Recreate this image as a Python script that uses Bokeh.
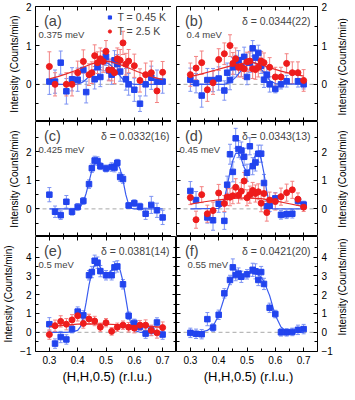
import math
from bokeh.plotting import figure
from bokeh.layouts import gridplot
from bokeh.models import (Range1d, LinearAxis, FixedTicker, Span, Label, Whisker,
                          TeeHead, ColumnDataSource, Legend, LegendItem)
from bokeh.embed import file_html
from bokeh.resources import INLINE

# ---------------- ticks / texts ----------------
x_ticks = [0.3, 0.4, 0.5, 0.6, 0.7]
x_minor_ticks = [0.25, 0.35, 0.45, 0.55, 0.65, 0.75]
y_ticks_row1 = [0, 1, 2]
y_minor_row1 = [-0.5, 0.5, 1.5]
y_ticks_row2 = [0, 1, 2]
y_minor_row2 = [-0.5, 0.5, 1.5, 2.5]
y_ticks_row3 = [-1, 0, 1, 2, 3, 4]
y_minor_row3 = [-0.5, 0.5, 1.5, 2.5, 3.5, 4.5]

panel_letters = ["(a)", "(b)", "(c)", "(d)", "(e)", "(f)"]
energies = ["0.375 meV", "0.4 meV", "0.425 meV", "0.45 meV", "0.5 meV", "0.55 meV"]
deltas = ["", "δ = 0.0344(22)", "δ = 0.0332(16)", "δ = 0.0343(13)",
          "δ = 0.0381(14)", "δ = 0.0421(20)"]
legend_labels = ["T = 0.45 K", "T = 2.5 K"]
y_title = "Intensity (Counts/min)"
x_title = "(H,H,0.5) (r.l.u.)"

# ---------------- panel (a) 0.375 meV ----------------
a_blue_x = [0.30, 0.32, 0.34, 0.36, 0.38, 0.40, 0.42, 0.43, 0.46, 0.47, 0.48, 0.49, 0.50,
            0.51, 0.52, 0.53, 0.54, 0.55, 0.57, 0.58, 0.60, 0.62, 0.64, 0.66, 0.68, 0.70]
a_blue_y = [0.07, 0.07, 0.56, -0.18, 0.13, 0.12, 0.37, -0.2, 0.13, 0.44, 0.19, 0.6, 0.71,
            0.36, 0.25, 0.62, 0.52, 0.33, 0.13, 0.0, -0.14, -0.5, 0.0, 0.17, 0.07, 0.07]
a_blue_e = [0.33, 0.3, 0.3, 0.33, 0.3, 0.3, 0.28, 0.28, 0.25, 0.25, 0.25, 0.25, 0.22,
            0.25, 0.25, 0.25, 0.25, 0.25, 0.28, 0.28, 0.3, 0.2, 0.3, 0.3, 0.3, 0.3]
a_red_x = [0.30, 0.32, 0.36, 0.38, 0.40, 0.42, 0.44, 0.45, 0.46, 0.47, 0.48, 0.49, 0.50, 0.51,
           0.52, 0.53, 0.54, 0.55, 0.56, 0.57, 0.58, 0.60, 0.62, 0.64, 0.66, 0.68, 0.70]
a_red_y = [0.46, 0.0, 0.0, 0.0, 0.3, 0.59, 0.25, 0.3, 0.74, 0.56, 0.66, 0.59, 0.85, 0.37,
           0.37, 0.3, 0.66, 0.62, 1.07, 0.52, 0.6, 0.48, 0.1, 0.25, 0.3, -0.17, 0.31]
a_red_e = [0.38, 0.3, 0.3, 0.3, 0.3, 0.3, 0.28, 0.28, 0.28, 0.28, 0.28, 0.28, 0.28, 0.28,
           0.28, 0.28, 0.28, 0.28, 0.3, 0.28, 0.3, 0.3, 0.3, 0.3, 0.3, 0.3, 0.28]
a_blue_fit_x = [0.30, 0.38, 0.40, 0.41, 0.42, 0.43, 0.44, 0.45, 0.46, 0.47, 0.48, 0.49,
                0.50, 0.51, 0.52, 0.53, 0.54, 0.55, 0.56, 0.57, 0.58, 0.60, 0.70]
a_blue_fit_y = [0.0, 0.0, 0.01, 0.03, 0.07, 0.13, 0.21, 0.30, 0.39, 0.47, 0.53, 0.56,
                0.56, 0.53, 0.47, 0.39, 0.30, 0.21, 0.13, 0.07, 0.03, 0.0, 0.0]
a_red_fit_x = [0.30, 0.33, 0.36, 0.39, 0.42, 0.45, 0.48, 0.50, 0.52, 0.55, 0.58, 0.61,
               0.64, 0.67, 0.70]
a_red_fit_y = [0.14, 0.2, 0.27, 0.35, 0.44, 0.53, 0.59, 0.6, 0.58, 0.51, 0.42, 0.33,
               0.25, 0.18, 0.12]

# ---------------- panel (b) 0.4 meV ----------------
b_blue_x = [0.30, 0.32, 0.34, 0.36, 0.38, 0.40, 0.42, 0.43, 0.44, 0.45, 0.46, 0.47, 0.48, 0.49,
            0.50, 0.51, 0.52, 0.53, 0.54, 0.55, 0.56, 0.57, 0.58, 0.60, 0.62, 0.64, 0.68, 0.70]
b_blue_y = [0.12, 0.03, -0.29, 0.11, 0.11, 0.15, -0.16, 0.3, 0.11, 0.44, 0.5, 0.62, 0.45, 0.71,
            0.19, 0.56, 0.93, 0.69, 0.81, 0.48, 0.12, 0.25, 0.0, -0.12, 0.0, 0.08, 0.08, 0.0]
b_blue_e = [0.3, 0.25, 0.3, 0.3, 0.3, 0.3, 0.25, 0.25, 0.25, 0.25, 0.25, 0.25, 0.25, 0.25,
            0.2, 0.25, 0.2, 0.2, 0.2, 0.2, 0.2, 0.2, 0.2, 0.1, 0.12, 0.15, 0.15, 0.12]
b_red_x = [0.30, 0.32, 0.34, 0.36, 0.38, 0.40, 0.42, 0.44, 0.45, 0.46, 0.47, 0.48, 0.49, 0.50,
           0.51, 0.52, 0.53, 0.54, 0.55, 0.56, 0.58, 0.60, 0.62, 0.64, 0.66, 0.68, 0.70]
b_red_y = [0.25, 0.42, 0.56, -0.14, 0.04, 0.64, 0.79, 1.0, 0.54, 0.66, 0.44, 0.44, 0.4, 0.58,
           0.6, 0.4, 0.38, 0.44, 0.6, 0.56, 0.44, 0.19, 0.19, 0.54, 0.3, 0.3, 0.1]
b_red_e = [0.3, 0.3, 0.3, 0.3, 0.3, 0.28, 0.28, 0.28, 0.28, 0.28, 0.25, 0.25, 0.25, 0.25,
           0.25, 0.25, 0.25, 0.25, 0.25, 0.25, 0.25, 0.25, 0.25, 0.25, 0.28, 0.28, 0.28]
b_blue_fit_x = [0.30, 0.42, 0.44, 0.46, 0.48, 0.50, 0.51, 0.52, 0.53, 0.54, 0.56, 0.58, 0.60, 0.70]
b_blue_fit_y = [0.0, 0.0, 0.05, 0.18, 0.36, 0.5, 0.55, 0.57, 0.55, 0.49, 0.3, 0.1, 0.02, 0.0]
b_red_fit_x = [0.30, 0.34, 0.38, 0.42, 0.46, 0.50, 0.52, 0.54, 0.58, 0.62, 0.66, 0.70]
b_red_fit_y = [0.2, 0.27, 0.35, 0.43, 0.51, 0.56, 0.56, 0.53, 0.43, 0.34, 0.27, 0.21]

# ---------------- panel (c) 0.425 meV ----------------
c_blue_x = [0.30, 0.32, 0.34, 0.36, 0.38, 0.40, 0.42, 0.44, 0.45, 0.46, 0.47, 0.48, 0.50,
            0.52, 0.53, 0.54, 0.55, 0.56, 0.58, 0.60, 0.62, 0.64, 0.66, 0.68, 0.70]
c_blue_y = [0.5, -0.1, -0.22, 0.25, -0.1, 0.07, 0.28, 0.87, 1.43, 1.7, 1.68, 1.5, 1.42,
            1.47, 1.45, 1.62, 1.12, 1.05, 0.12, 0.2, 0.08, -0.17, 0.14, -0.05, -0.3]
c_blue_e = [0.25, 0.2, 0.15, 0.22, 0.12, 0.12, 0.12, 0.15, 0.15, 0.15, 0.15, 0.12, 0.12,
            0.15, 0.15, 0.12, 0.15, 0.15, 0.1, 0.12, 0.12, 0.2, 0.3, 0.25, 0.25]
c_blue_fit_x = [0.30, 0.38, 0.40, 0.41, 0.42, 0.43, 0.44, 0.45, 0.46, 0.47, 0.48, 0.49,
                0.50, 0.51, 0.52, 0.53, 0.54, 0.55, 0.56, 0.57, 0.58, 0.59, 0.60, 0.70]
c_blue_fit_y = [0.0, 0.0, 0.02, 0.08, 0.25, 0.55, 0.95, 1.35, 1.6, 1.65, 1.58, 1.47,
                1.42, 1.45, 1.52, 1.6, 1.6, 1.4, 1.0, 0.5, 0.15, 0.02, 0.0, 0.0]

# ---------------- panel (d) 0.45 meV ----------------
d_blue_x = [0.30, 0.32, 0.36, 0.38, 0.40, 0.42, 0.43, 0.44, 0.45, 0.46, 0.47, 0.48, 0.49, 0.50,
            0.51, 0.52, 0.53, 0.54, 0.55, 0.56, 0.57, 0.58, 0.60, 0.62, 0.64, 0.66, 0.68, 0.70]
d_blue_y = [0.63, 0.31, -0.3, -0.4, 0.18, -0.42, 0.85, 1.92, 1.3, 2.48, 2.1, 2.05, 1.83, 1.27,
            2.2, 1.5, 1.63, 1.94, 1.94, 0.91, 0.09, 0.11, 0.37, -0.21, -0.19, -0.17, 0.28, 0.15]
d_blue_e = [0.33, 0.3, 0.2, 0.35, 0.3, 0.3, 0.3, 0.35, 0.35, 0.35, 0.3, 0.3, 0.3, 0.3,
            0.3, 0.3, 0.3, 0.3, 0.3, 0.3, 0.2, 0.2, 0.2, 0.15, 0.15, 0.15, 0.15, 0.12]
d_red_x = [0.30, 0.32, 0.34, 0.36, 0.38, 0.40, 0.42, 0.43, 0.44, 0.45, 0.46, 0.47, 0.48, 0.49,
           0.50, 0.51, 0.52, 0.53, 0.54, 0.55, 0.56, 0.57, 0.58, 0.60, 0.62, 0.64, 0.66, 0.68, 0.70]
d_red_y = [0.4, -0.38, 0.5, -0.17, -0.06, 0.56, 0.19, 0.42, 0.41, 0.46, 0.76, 0.48, 0.62, 0.98,
           0.39, 0.5, 0.65, 0.54, 0.6, 0.2, 0.54, -0.13, 0.31, 0.26, 0.43, 0.57, 0.67, 0.34, 0.06]
d_red_e = [0.25, 0.3, 0.28, 0.3, 0.3, 0.3, 0.28, 0.3, 0.3, 0.28, 0.3, 0.28, 0.3, 0.3,
           0.28, 0.3, 0.28, 0.3, 0.28, 0.3, 0.28, 0.3, 0.28, 0.3, 0.3, 0.3, 0.3, 0.22, 0.15]
d_blue_fit_x = [0.30, 0.40, 0.41, 0.42, 0.43, 0.44, 0.45, 0.46, 0.47, 0.48, 0.49, 0.50,
                0.51, 0.52, 0.53, 0.54, 0.55, 0.56, 0.57, 0.58, 0.59, 0.60, 0.70]
d_blue_fit_y = [0.0, 0.02, 0.1, 0.35, 0.8, 1.3, 1.7, 1.95, 1.95, 1.75, 1.45, 1.3,
                1.4, 1.65, 1.9, 1.95, 1.75, 1.25, 0.6, 0.15, 0.0, 0.0, 0.0]
d_red_fit_x = [0.30, 0.35, 0.40, 0.45, 0.50, 0.55, 0.60, 0.65, 0.70]
d_red_fit_y = [0.17, 0.25, 0.32, 0.37, 0.39, 0.36, 0.28, 0.18, 0.08]

# ---------------- panel (e) 0.5 meV ----------------
e_blue_x = [0.30, 0.32, 0.34, 0.36, 0.38, 0.40, 0.42, 0.44, 0.45, 0.46, 0.47, 0.48,
            0.50, 0.52, 0.53, 0.54, 0.56, 0.58, 0.60, 0.62, 0.64, 0.66, 0.68, 0.70]
e_blue_y = [0.43, -0.6, -0.25, -0.38, 0.17, 1.1, 0.9, 3.03, 3.2, 3.8, 3.7, 3.25,
            3.03, 3.03, 3.45, 3.5, 2.55, 0.88, 0.5, 0.3, -0.07, 0.1, 0.52, -0.12]
e_blue_e = [0.35, 0.25, 0.3, 0.25, 0.2, 0.25, 0.25, 0.25, 0.3, 0.3, 0.3, 0.3,
            0.25, 0.25, 0.3, 0.3, 0.25, 0.2, 0.2, 0.2, 0.25, 0.25, 0.25, 0.25]
e_red_x = [0.30, 0.32, 0.34, 0.36, 0.38, 0.40, 0.42, 0.44, 0.46, 0.48, 0.50,
           0.52, 0.54, 0.56, 0.58, 0.60, 0.62, 0.64, 0.66, 0.68, 0.70]
e_red_y = [-0.12, 0.35, 0.58, 0.43, 0.66, 0.88, 0.47, 0.71, 0.6, 0.27, 0.51,
           0.05, 0.27, 0.38, 0.27, 0.22, 0.38, 0.38, 0.1, -0.03, 0.25]
e_red_e = [0.25, 0.3, 0.3, 0.3, 0.28, 0.28, 0.25, 0.25, 0.25, 0.22, 0.22,
           0.2, 0.22, 0.22, 0.25, 0.25, 0.25, 0.28, 0.28, 0.28, 0.3]
e_blue_fit_x = [0.30, 0.36, 0.38, 0.40, 0.41, 0.42, 0.43, 0.44, 0.45, 0.46, 0.47, 0.48, 0.49,
                0.50, 0.51, 0.52, 0.53, 0.54, 0.55, 0.56, 0.57, 0.58, 0.59, 0.60, 0.62, 0.70]
e_blue_fit_y = [0.0, 0.0, 0.02, 0.1, 0.3, 0.8, 1.6, 2.5, 3.2, 3.6, 3.65, 3.45, 3.2,
                3.1, 3.15, 3.3, 3.45, 3.5, 3.3, 2.7, 1.8, 0.9, 0.35, 0.1, 0.0, 0.0]
e_red_fit_x = [0.30, 0.35, 0.40, 0.45, 0.50, 0.55, 0.60, 0.65, 0.70]
e_red_fit_y = [0.3, 0.37, 0.43, 0.45, 0.43, 0.4, 0.36, 0.32, 0.28]

# ---------------- panel (f) 0.55 meV ----------------
f_blue_x = [0.30, 0.32, 0.34, 0.36, 0.38, 0.40, 0.42, 0.44, 0.45, 0.46, 0.47, 0.48, 0.50,
            0.52, 0.53, 0.54, 0.55, 0.56, 0.58, 0.60, 0.62, 0.64, 0.66, 0.68, 0.70]
f_blue_y = [-0.03, -0.08, -0.1, 0.7, 0.25, 0.93, 2.07, 2.78, 3.45, 3.04, 3.12, 2.95, 3.08,
            3.32, 3.24, 2.78, 3.2, 2.57, 1.3, 0.97, 0.0, 0.0, 0.02, 0.13, 0.17]
f_blue_e = [0.25, 0.25, 0.25, 0.35, 0.2, 0.25, 0.25, 0.25, 0.45, 0.3, 0.3, 0.3, 0.25,
            0.35, 0.4, 0.3, 0.3, 0.3, 0.25, 0.2, 0.2, 0.2, 0.2, 0.25, 0.25]
f_blue_fit_x = [0.30, 0.34, 0.36, 0.38, 0.40, 0.42, 0.44, 0.45, 0.46, 0.48, 0.50,
                0.52, 0.54, 0.55, 0.56, 0.58, 0.60, 0.62, 0.64, 0.66, 0.70]
f_blue_fit_y = [0.0, 0.02, 0.1, 0.32, 0.9, 1.85, 2.65, 2.92, 3.05, 3.1, 3.1,
                3.15, 3.05, 2.92, 2.7, 1.95, 0.9, 0.28, 0.05, 0.0, 0.0]

# ---------------- style / layout ----------------
FONT = "Liberation Sans"
BLUE, BLUE_ERR, BLUE_FIT = "#2244ee", "#7d93f3", "#3a5cf0"
RED, RED_ERR, RED_FIT = "#ee1c1c", "#f38282", "#e62a2a"
X_START, X_END = 0.251, 0.749
FW, FH = 141, 115
BL, BR, BT, BB = 28, 15, 6, 16
TITLE_W, XTITLE_H = 13, 17
row_ranges = [(-0.96, 2.01), (-0.97, 3.07), (-1.02, 5.09)]
row_ticks = [(y_ticks_row1, y_minor_row1), (y_ticks_row2, y_minor_row2),
             (y_ticks_row3, y_minor_row3)]
energy_dx = [3, 10, 3, 3, 3, 11]


def no_grid(f):
    f.xgrid.visible = False
    f.ygrid.visible = False
    for r in f.center:
        if r.__class__.__name__ == "Grid":
            r.visible = False


def style_axis(ax, labels):
    ax.major_tick_in = 4
    ax.major_tick_out = 0
    ax.minor_tick_in = 3
    ax.minor_tick_out = 0
    ax.axis_line_color = None
    ax.major_tick_line_color = "black"
    ax.minor_tick_line_color = "black"
    if labels:
        ax.major_label_text_font = FONT
        ax.major_label_text_font_size = "10px"
        ax.major_label_text_color = "black"
        ax.major_label_standoff = 4
    else:
        ax.major_label_text_color = None


def blank_fig(w, h):
    f = figure(width=w, height=h, x_range=Range1d(0, w), y_range=Range1d(0, h),
               x_axis_location=None, y_axis_location=None, tools="",
               toolbar_location=None, output_backend="svg", min_border=0,
               background_fill_color="white", border_fill_color="white")
    f.outline_line_color = None
    no_grid(f)
    return f


def make_panel(idx, blue, red, blue_fit, red_fit, legend=False):
    row, col = idx // 2, idx % 2
    yr = row_ranges[row]
    p = figure(frame_width=FW, frame_height=FH,
               x_range=Range1d(X_START, X_END), y_range=Range1d(*yr),
               x_axis_location=None, y_axis_location=None, tools="",
               toolbar_location=None, output_backend="svg",
               min_border_left=BL if col == 0 else 0,
               min_border_right=BR if col == 1 else 0,
               min_border_top=BT if row == 0 else 0,
               min_border_bottom=BB if row == 2 else 0,
               background_fill_color="white", border_fill_color="white")
    p.outline_line_color = "black"
    p.outline_line_width = 1
    no_grid(p)

    xt = FixedTicker(ticks=x_ticks, minor_ticks=x_minor_ticks)
    yt = FixedTicker(ticks=row_ticks[row][0], minor_ticks=row_ticks[row][1])

    # bottom / top
    if row == 2:
        ax = LinearAxis(ticker=xt)
        style_axis(ax, True)
    else:
        ax = LinearAxis(ticker=xt, fixed_location=yr[0])
        style_axis(ax, False)
    p.add_layout(ax, "below")
    ax = LinearAxis(ticker=xt, fixed_location=yr[1])
    style_axis(ax, False)
    p.add_layout(ax, "above")
    # left / right
    if col == 0:
        ax = LinearAxis(ticker=yt, axis_label=y_title)
        style_axis(ax, True)
        ax.axis_label_standoff = 3
        ax.axis_label_text_font = FONT
        ax.axis_label_text_font_size = "10px"
        ax.axis_label_text_font_style = "normal"
        ax.axis_label_text_color = "black"
        p.add_layout(ax, "left")
        ax2 = LinearAxis(ticker=yt, fixed_location=X_END)
        style_axis(ax2, False)
        p.add_layout(ax2, "right")
    else:
        ax = LinearAxis(ticker=yt, fixed_location=X_START)
        style_axis(ax, False)
        p.add_layout(ax, "left")
        ax2 = LinearAxis(ticker=yt)
        style_axis(ax2, True)
        p.add_layout(ax2, "right")

    p.add_layout(Span(location=0, dimension="width", line_color="#a8a8a8",
                      line_dash="4 3", line_width=1, level="underlay"))

    renderers = []
    for data, col_m, col_e, col_f, marker, size, fit in (
            (blue, BLUE, BLUE_ERR, BLUE_FIT, "square", 5.5, blue_fit),
            (red, RED, RED_ERR, RED_FIT, "circle", 6, red_fit)):
        if data is None:
            continue
        xs, ys, es = data
        src = ColumnDataSource(dict(x=xs, y=ys,
                                    up=[v + e for v, e in zip(ys, es)],
                                    lo=[v - e for v, e in zip(ys, es)]))
        p.add_layout(Whisker(source=src, base="x", upper="up", lower="lo",
                             line_color=col_e, line_width=1, level="underlay",
                             upper_head=TeeHead(size=4, line_color=col_e, line_width=1),
                             lower_head=TeeHead(size=4, line_color=col_e, line_width=1)))
        p.line(fit[0], fit[1], line_color=col_f, line_width=1.2)
        r = p.scatter("x", "y", source=src, marker=marker, size=size,
                      fill_color=col_m, line_color=col_m)
        renderers.append(r)

    p.add_layout(Label(x=X_START, y=yr[1], x_offset=8.5, y_offset=-14.5,
                       text=panel_letters[idx], text_font=FONT,
                       text_font_size="14.5px", text_baseline="middle"))
    p.add_layout(Label(x=X_START, y=yr[1], x_offset=energy_dx[idx], y_offset=-28,
                       text=energies[idx], text_font=FONT,
                       text_font_size="9.5px", text_baseline="middle"))
    if deltas[idx]:
        p.add_layout(Label(x=X_END, y=yr[1], x_offset=-7, y_offset=-14,
                           text=deltas[idx], text_font=FONT, text_font_size="10.5px",
                           text_align="right", text_baseline="middle"))
    if legend:
        leg = Legend(items=[LegendItem(label=legend_labels[0], renderers=[renderers[0]]),
                            LegendItem(label=legend_labels[1], renderers=[renderers[1]])],
                     location="top_right", orientation="vertical",
                     border_line_color=None, background_fill_alpha=0,
                     label_text_font=FONT, label_text_font_size="10.5px",
                     glyph_width=8, glyph_height=12, label_height=12,
                     label_standoff=4, spacing=2, padding=0, margin=5)
        p.add_layout(leg)
    return p


def right_title(row):
    h = FH + (BT if row == 0 else 0) + (BB if row == 2 else 0)
    f = blank_fig(TITLE_W, h)
    frame_mid = FH / 2 + (BB if row == 2 else 0)
    f.add_layout(Label(x=TITLE_W / 2, y=frame_mid, text=y_title, angle=math.pi / 2,
                       text_font=FONT, text_font_size="10px", text_color="black",
                       text_align="center", text_baseline="middle"))
    return f


def bottom_title(col):
    w = BL + FW if col == 0 else FW + BR
    f = blank_fig(w, XTITLE_H)
    cx = BL + 0.443 * FW if col == 0 else 0.577 * FW
    f.add_layout(Label(x=cx, y=XTITLE_H / 2, text=x_title, text_font=FONT,
                       text_font_size="13px", text_color="black",
                       text_align="center", text_baseline="middle"))
    return f


pa = make_panel(0, (a_blue_x, a_blue_y, a_blue_e), (a_red_x, a_red_y, a_red_e),
                (a_blue_fit_x, a_blue_fit_y), (a_red_fit_x, a_red_fit_y), legend=True)
pb = make_panel(1, (b_blue_x, b_blue_y, b_blue_e), (b_red_x, b_red_y, b_red_e),
                (b_blue_fit_x, b_blue_fit_y), (b_red_fit_x, b_red_fit_y))
pc = make_panel(2, (c_blue_x, c_blue_y, c_blue_e), None,
                (c_blue_fit_x, c_blue_fit_y), None)
pd = make_panel(3, (d_blue_x, d_blue_y, d_blue_e), (d_red_x, d_red_y, d_red_e),
                (d_blue_fit_x, d_blue_fit_y), (d_red_fit_x, d_red_fit_y))
pe = make_panel(4, (e_blue_x, e_blue_y, e_blue_e), (e_red_x, e_red_y, e_red_e),
                (e_blue_fit_x, e_blue_fit_y), (e_red_fit_x, e_red_fit_y))
pf = make_panel(5, (f_blue_x, f_blue_y, f_blue_e), None,
                (f_blue_fit_x, f_blue_fit_y), None)

grid = gridplot([[pa, pb, right_title(0)],
                 [pc, pd, right_title(1)],
                 [pe, pf, right_title(2)],
                 [bottom_title(0), bottom_title(1), None]],
                toolbar_location=None, merge_tools=False)

open("out.html", "w").write(file_html(grid, INLINE))
